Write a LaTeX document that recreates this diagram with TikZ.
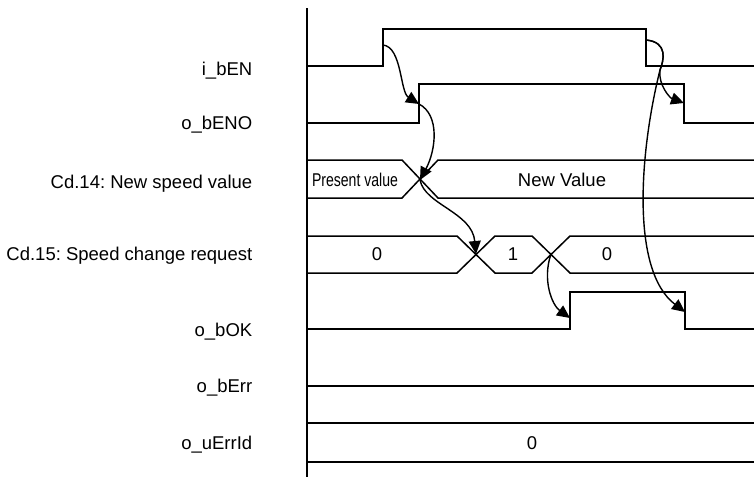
\documentclass[tikz,border=0pt]{standalone}
\usepackage{fontspec}
\setmainfont{Liberation Sans}
\usetikzlibrary{arrows.meta}
\frenchspacing

\begin{document}
\begin{tikzpicture}[x=1pt,y=-1pt,line width=1.5pt,
  lbl/.style={anchor=base east,inner sep=0pt,font=\fontsize{18.5}{22}\selectfont},
  val/.style={anchor=base,inner sep=0pt,font=\fontsize{18.5}{22}\selectfont},
  cause/.style={line width=1.4pt,-{Triangle[length=13pt,width=12pt]}}]
\useasboundingbox (0,0) rectangle (754,477);

% signal names
\node[lbl] (nEN) at (253,75.5) {i\_bEN};
\node[lbl] (nENO) at (253,129.5) {o\_bENO};
\node[lbl] (nSpeed) at (253,188.5) {Cd.14: New speed value};
\node[lbl] (nReq) at (253,260.5) {Cd.15: Speed change request};
\node[lbl] (nOK) at (253,336.5) {o\_bOK};
\node[lbl] (nErr) at (253,392.5) {o\_bErr};
\node[lbl] (nErrId) at (253,449.5) {o\_uErrId};

% time axis
\draw (307,8) -- (307,477);

% i_bEN
\draw (307,66) -- (383,66) -- (383,29) -- (646,29) -- (646,66) -- (754,66);
% o_bENO
\draw (307,123) -- (419,123) -- (419,84) -- (684,84) -- (684,123) -- (754,123);
% Cd.14
\draw (307,160) -- (402,160) -- (438,198) -- (754,198);
\draw (307,198) -- (402,198) -- (438,160) -- (754,160);
\node[val] (vPresent) at (355,186.5) {\scalebox{0.76}[1]{Present value}};
\node[val] (vNew) at (562,186.5) {New Value};
% Cd.15
\draw (307,236) -- (457,236) -- (495,273) -- (532,273) -- (570,236) -- (754,236);
\draw (307,273) -- (457,273) -- (495,236) -- (532,236) -- (570,273) -- (754,273);
\node[val] (vReqA) at (377,260.5) {0};
\node[val] (vReqB) at (513,260.5) {1};
\node[val] (vReqC) at (607,260.5) {0};
% o_bOK
\draw (307,329) -- (570,329) -- (570,292) -- (685,292) -- (685,329) -- (754,329);
% o_bErr
\draw (307,386) -- (754,386);
% o_uErrId
\draw (307,423) -- (754,423);
\draw (307,462) -- (754,462);
\node[val] (vErrId) at (532,449.5) {0};

% edges
\coordinate (enUp) at (383,45);
\coordinate (enoUp) at (419,104);
\coordinate (spX) at (420,180);
\coordinate (reqX1) at (476,254);
\coordinate (reqX2) at (551,254);
\coordinate (okUp) at (570,318);
\coordinate (enDown) at (646,40);
\coordinate (enoDown) at (684,103);
\coordinate (okDown) at (685,312);

% causes
\draw[cause] (enUp) .. controls (402,47) and (400,92) .. (enoUp);
\draw[cause] (enoUp) .. controls (440,115) and (436,150) .. (spX);
\draw[cause] (spX) .. controls (425,205) and (472,212) .. (reqX1);
\draw[cause] (reqX2) .. controls (542,280) and (552,305) .. (okUp);
\draw[cause] (enDown) .. controls (668,42) and (664,60) .. (660,70)
  .. controls (658,85) and (670,98) .. (enoDown);
\draw[cause] (enDown) .. controls (668,42) and (664,60) .. (660,70)
  .. controls (640,150) and (630,270) .. (okDown);
\end{tikzpicture}
\end{document}
